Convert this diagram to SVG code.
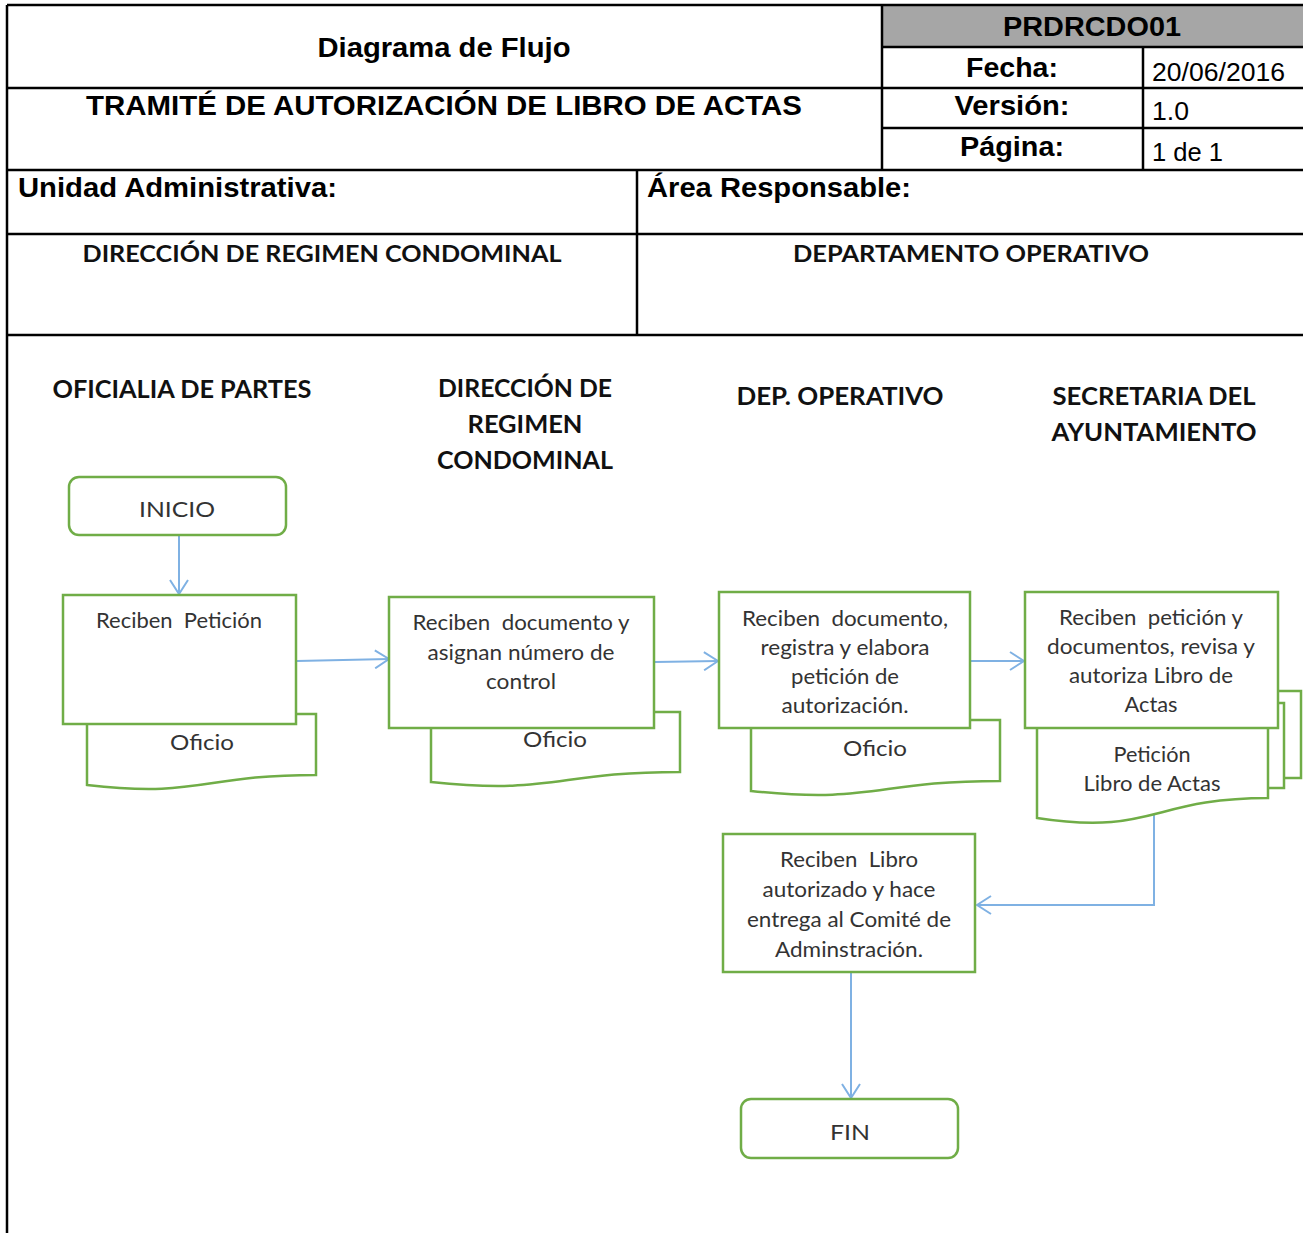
<svg xmlns="http://www.w3.org/2000/svg" width="1303" height="1233" viewBox="0 0 1303 1233">
<defs>
<style>
.tl{stroke:#000;stroke-width:2.5;fill:none}
.hb{font-family:"Liberation Sans",Arial,sans-serif;font-weight:bold;fill:#000}
.hr{font-family:"Liberation Sans",Arial,sans-serif;fill:#000}
.cb{font-family:Lato,"Open Sans",sans-serif;font-weight:bold;fill:#111}
.bx{fill:#fff;stroke:#70ad47;stroke-width:2.5}
.t{font-family:Lato,"Open Sans",sans-serif;font-size:21px;fill:#333;white-space:pre}
.cn{fill:none;stroke:#7fb1e3;stroke-width:2;marker-end:url(#ah)}
</style>
<marker id="ah" markerUnits="userSpaceOnUse" viewBox="0 0 16 20" refX="15" refY="10" markerWidth="16" markerHeight="20" orient="auto">
<path d="M1,1 L15,10 L1,19" fill="none" stroke="#7fb1e3" stroke-width="2"/>
</marker>
</defs>
<rect width="1303" height="1233" fill="#fff"/>
<g id="header">
<rect x="882" y="5" width="421" height="42" fill="#a6a6a6"/>
<path class="tl" d="M7,5 H1303 M7,5 V1233 M882,5 V170 M882,47 H1303 M7,88 H1303 M882,128 H1303 M1143,47 V170 M7,170 H1303 M637,170 V335 M7,234 H1303 M7,335 H1303"/>
<text class="hb" x="444" y="57" font-size="27" text-anchor="middle" textLength="253" lengthAdjust="spacingAndGlyphs">Diagrama de Flujo</text>
<text class="hb" x="444" y="115" font-size="27" text-anchor="middle" textLength="716" lengthAdjust="spacingAndGlyphs">TRAMITÉ DE AUTORIZACIÓN DE LIBRO DE ACTAS</text>
<text class="hb" x="1092" y="36" font-size="27" text-anchor="middle" textLength="178" lengthAdjust="spacingAndGlyphs">PRDRCDO01</text>
<text class="hb" x="1012" y="77" font-size="27" text-anchor="middle" textLength="92" lengthAdjust="spacingAndGlyphs">Fecha:</text>
<text class="hb" x="1012" y="115" font-size="27" text-anchor="middle" textLength="115" lengthAdjust="spacingAndGlyphs">Versión:</text>
<text class="hb" x="1012" y="156" font-size="27" text-anchor="middle" textLength="104" lengthAdjust="spacingAndGlyphs">Página:</text>
<text class="hr" x="1152" y="81" font-size="25" textLength="133" lengthAdjust="spacingAndGlyphs">20/06/2016</text>
<text class="hr" x="1152" y="120" font-size="25" textLength="37" lengthAdjust="spacingAndGlyphs">1.0</text>
<text class="hr" x="1152" y="161" font-size="25" textLength="71" lengthAdjust="spacingAndGlyphs">1 de 1</text>
<text class="hb" x="18" y="197" font-size="27" textLength="319" lengthAdjust="spacingAndGlyphs">Unidad Administrativa:</text>
<text class="hb" x="647" y="197" font-size="27" textLength="264" lengthAdjust="spacingAndGlyphs">Área Responsable:</text>
<text class="cb" x="322" y="262" font-size="23" text-anchor="middle" textLength="479" lengthAdjust="spacingAndGlyphs">DIRECCIÓN DE REGIMEN CONDOMINAL</text>
<text class="cb" x="971" y="262" font-size="23" text-anchor="middle" textLength="356" lengthAdjust="spacingAndGlyphs">DEPARTAMENTO OPERATIVO</text>
</g>
<g id="lanes">
<text class="cb" x="182" y="398" font-size="25" text-anchor="middle" textLength="259" lengthAdjust="spacingAndGlyphs">OFICIALIA DE PARTES</text>
<text class="cb" x="525" y="397" font-size="25" text-anchor="middle" textLength="174" lengthAdjust="spacingAndGlyphs">DIRECCIÓN DE</text>
<text class="cb" x="525" y="433" font-size="25" text-anchor="middle" textLength="115" lengthAdjust="spacingAndGlyphs">REGIMEN</text>
<text class="cb" x="525" y="469" font-size="25" text-anchor="middle" textLength="176" lengthAdjust="spacingAndGlyphs">CONDOMINAL</text>
<text class="cb" x="840" y="405" font-size="25" text-anchor="middle" textLength="207" lengthAdjust="spacingAndGlyphs">DEP. OPERATIVO</text>
<text class="cb" x="1154" y="405" font-size="25" text-anchor="middle" textLength="203" lengthAdjust="spacingAndGlyphs">SECRETARIA DEL</text>
<text class="cb" x="1154" y="441" font-size="25" text-anchor="middle" textLength="205" lengthAdjust="spacingAndGlyphs">AYUNTAMIENTO</text>
</g>
<g id="connectors">
<path class="cn" d="M179,535 V594"/>
<path class="cn" d="M297,661 L389,659"/>
<path class="cn" d="M655,662 L718,661"/>
<path class="cn" d="M971,661 L1024,661"/>
<path class="cn" d="M1154,815 V905 H977"/>
<path class="cn" d="M851,973 V1098"/>
</g>
<g id="inicio">
<rect class="bx" x="69" y="477" width="217" height="58" rx="10"/>
<text class="t" x="177" y="517" font-size="27" text-anchor="middle" textLength="76" lengthAdjust="spacingAndGlyphs">INICIO</text>
</g>
<g id="oficio1">
<path class="bx" d="M87,714 H316 V775 C201,775 201,798 87,785 Z"/>
<text class="t" x="202" y="750" font-size="22" text-anchor="middle" textLength="64" lengthAdjust="spacingAndGlyphs">Oficio</text>
</g>
<g id="paso1">
<rect class="bx" x="63" y="595" width="233" height="129"/>
<text class="t" x="179" y="628" text-anchor="middle" textLength="166" lengthAdjust="spacingAndGlyphs" xml:space="preserve">Reciben  Petición</text>
</g>
<g id="oficio2">
<path class="bx" d="M431,712 H680 V772 C555,772 555,795 431,782 Z"/>
<text class="t" x="555" y="747" font-size="22" text-anchor="middle" textLength="64" lengthAdjust="spacingAndGlyphs">Oficio</text>
</g>
<g id="paso2">
<rect class="bx" x="389" y="597" width="265" height="131"/>
<text class="t" x="521" y="630" text-anchor="middle" textLength="217" lengthAdjust="spacingAndGlyphs" xml:space="preserve">Reciben  documento y</text>
<text class="t" x="521" y="660" text-anchor="middle" textLength="187" lengthAdjust="spacingAndGlyphs">asignan número de</text>
<text class="t" x="521" y="689" text-anchor="middle" textLength="70" lengthAdjust="spacingAndGlyphs">control</text>
</g>
<g id="oficio3">
<path class="bx" d="M751,720 H1000 V781 C875,781 875,804 751,791 Z"/>
<text class="t" x="875" y="756" font-size="22" text-anchor="middle" textLength="64" lengthAdjust="spacingAndGlyphs">Oficio</text>
</g>
<g id="paso3">
<rect class="bx" x="719" y="592" width="251" height="136"/>
<text class="t" x="845" y="626" text-anchor="middle" textLength="206" lengthAdjust="spacingAndGlyphs" xml:space="preserve">Reciben  documento,</text>
<text class="t" x="845" y="655" text-anchor="middle" textLength="169" lengthAdjust="spacingAndGlyphs">registra y elabora</text>
<text class="t" x="845" y="684" text-anchor="middle" textLength="108" lengthAdjust="spacingAndGlyphs">petición de</text>
<text class="t" x="845" y="713" text-anchor="middle" textLength="127" lengthAdjust="spacingAndGlyphs">autorización.</text>
</g>
<g id="multidoc">
<rect class="bx" x="1065" y="691" width="236" height="87"/>
<rect class="bx" x="1050" y="703" width="234" height="85"/>
<path class="bx" d="M1037,715 H1268 V798 C1152,798 1152,836 1037,818 Z"/>
<text class="t" x="1152" y="762" text-anchor="middle" textLength="77" lengthAdjust="spacingAndGlyphs">Petición</text>
<text class="t" x="1152" y="791" text-anchor="middle" textLength="137" lengthAdjust="spacingAndGlyphs">Libro de Actas</text>
</g>
<g id="paso4">
<rect class="bx" x="1025" y="592" width="253" height="136"/>
<text class="t" x="1151" y="625" text-anchor="middle" textLength="184" lengthAdjust="spacingAndGlyphs" xml:space="preserve">Reciben  petición y</text>
<text class="t" x="1151" y="654" text-anchor="middle" textLength="208" lengthAdjust="spacingAndGlyphs">documentos, revisa y</text>
<text class="t" x="1151" y="683" text-anchor="middle" textLength="164" lengthAdjust="spacingAndGlyphs">autoriza Libro de</text>
<text class="t" x="1151" y="712" text-anchor="middle" textLength="53" lengthAdjust="spacingAndGlyphs">Actas</text>
</g>
<g id="paso5">
<rect class="bx" x="723" y="834" width="252" height="138"/>
<text class="t" x="849" y="867" text-anchor="middle" textLength="138" lengthAdjust="spacingAndGlyphs" xml:space="preserve">Reciben  Libro</text>
<text class="t" x="849" y="897" text-anchor="middle" textLength="173" lengthAdjust="spacingAndGlyphs">autorizado y hace</text>
<text class="t" x="849" y="927" text-anchor="middle" textLength="204" lengthAdjust="spacingAndGlyphs">entrega al Comité de</text>
<text class="t" x="849" y="957" text-anchor="middle" textLength="148" lengthAdjust="spacingAndGlyphs">Adminstración.</text>
</g>
<g id="fin">
<rect class="bx" x="741" y="1099" width="217" height="59" rx="10"/>
<text class="t" x="850" y="1140" font-size="27" text-anchor="middle" textLength="40" lengthAdjust="spacingAndGlyphs">FIN</text>
</g>
</svg>
